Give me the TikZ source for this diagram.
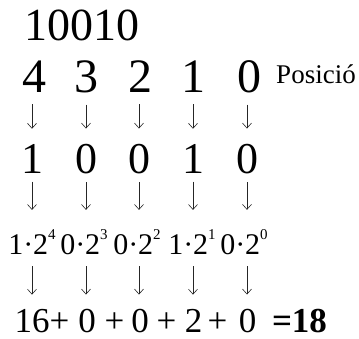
\documentclass[tikz,border=0pt]{standalone}
\usepackage{fontspec}
\setmainfont{Liberation Serif}
\usetikzlibrary{arrows.meta}
\newcommand{\pw}[1]{\raisebox{15pt}{\fontsize{15}{15}\selectfont #1}}

\begin{document}
\begin{tikzpicture}[x=1pt, y=-1pt, every node/.style={inner sep=0pt,anchor=base},
  down/.style={-{Straight Barb[length=5pt,width=9pt]},line width=0.6pt,black!85},
  big/.style={font=\fontsize{48}{48}\selectfont}, mid/.style={font=\fontsize{44}{44}\selectfont},
  small/.style={font=\fontsize{30}{30}\selectfont}, sum/.style={font=\fontsize{35}{35}\selectfont}]
\useasboundingbox (0,0) rectangle (359,338);
% number and positions
\node[font=\fontsize{46}{46}\selectfont] (bin) at (82,40) {10010};
\node[big] (p4) at (35,92) {4}; \node[big] (p3) at (86,92) {3}; \node[big] (p2) at (140,92) {2};
\node[big] (p1) at (193,92) {1}; \node[big] (p0) at (249,92) {0};
\node[font=\fontsize{27}{27}\selectfont] (pos) at (316,83) {Posició};
% digits
\node[mid] (b4) at (32,173) {1}; \node[mid] (b3) at (86,173) {0}; \node[mid] (b2) at (139,173) {0};
\node[mid] (b1) at (193,173) {1}; \node[mid] (b0) at (247,173) {0};
% weights
\node[small] (t4) at (32,254) {1·2\pw{4}}; \node[small] (t3) at (84,254) {0·2\pw{3}};
\node[small] (t2) at (137,254) {0·2\pw{2}}; \node[small] (t1) at (192,254) {1·2\pw{1}};
\node[small] (t0) at (244,254) {0·2\pw{0}};
% sum
\node[sum] (s4) at (42,332) {16+}; \node[sum] (s3) at (87,332) {0}; \node[sum] (pl3) at (114.5,332) {+};
\node[sum] (s2) at (140,332) {0}; \node[sum] (pl2) at (166.5,332) {+}; \node[sum] (s1) at (193.5,332) {2};
\node[sum] (pl1) at (217.5,332) {+}; \node[sum] (s0) at (247.5,332) {0};
\node[sum,font=\fontsize{35}{35}\selectfont\bfseries] (res) at (299.5,332) {=18};
% arrows
\draw[down,shorten <=12pt,shorten >=15pt] (p4.south -| b4) -- (b4.north); \draw[down,shorten <=12pt,shorten >=15pt] (p3.south -| b3) -- (b3.north);
\draw[down,shorten <=12pt,shorten >=15pt] (p2.south -| b2) -- (b2.north); \draw[down,shorten <=12pt,shorten >=15pt] (p1.south -| b1) -- (b1.north);
\draw[down,shorten <=12pt,shorten >=15pt] (p0.south -| b0) -- (b0.north);
\draw[down,shorten <=8.5pt,shorten >=19pt] (b4.south) -- (b4 |- t4.north); \draw[down,shorten <=8.5pt,shorten >=19pt] (b3.south) -- (b3 |- t3.north);
\draw[down,shorten <=8.5pt,shorten >=19pt] (b2.south) -- (b2 |- t2.north); \draw[down,shorten <=8.5pt,shorten >=19pt] (b1.south) -- (b1 |- t1.north);
\draw[down,shorten <=8.5pt,shorten >=19pt] (b0.south) -- (b0 |- t0.north);
\draw[down,shorten <=12pt,shorten >=14pt] (b4 |- t4.south) -- (b4 |- s4.north); \draw[down,shorten <=12pt,shorten >=14pt] (b3 |- t3.south) -- (b3 |- s3.north);
\draw[down,shorten <=12pt,shorten >=14pt] (b2 |- t2.south) -- (b2 |- s2.north); \draw[down,shorten <=12pt,shorten >=14pt] (b1 |- t1.south) -- (b1 |- s1.north);
\draw[down,shorten <=12pt,shorten >=14pt] (b0 |- t0.south) -- (b0 |- s0.north);
\end{tikzpicture}
\end{document}
